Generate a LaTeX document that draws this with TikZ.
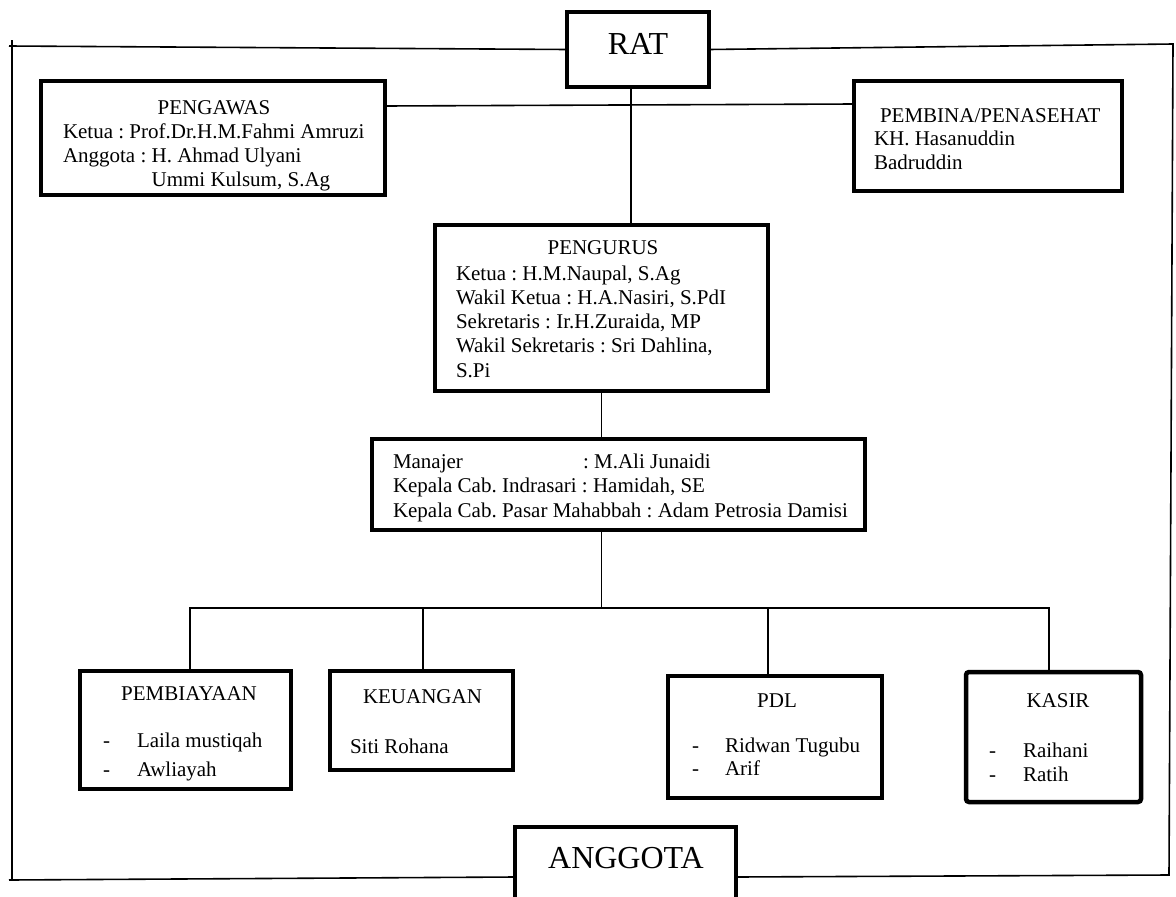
\documentclass[tikz,border=0pt]{standalone}
\usepackage{fontspec}
\setmainfont{Liberation Serif}
\usetikzlibrary{calc}
\frenchspacing
\begin{document}
\begin{tikzpicture}[x=1pt,y=-1pt,
  every node/.style={font=\fontsize{21}{24}\selectfont\frenchspacing, inner sep=0pt, outer sep=0pt},
  orgbox/.style={draw, line width=4.5pt, rectangle, anchor=north west},
  conn/.style={line width=1.6pt},
  lbl/.style={anchor=base west},
  ttl/.style={anchor=base},
  big/.style={font=\fontsize{32}{36}\selectfont, anchor=base},
]
\useasboundingbox (0,0) rectangle (1176,897);
\clip (0,0) rectangle (1176,897);

% boxes
\node[orgbox, minimum width=142, minimum height=75] (rat) at (567,12) {};
\node[orgbox, minimum width=344, minimum height=114] (pengawas) at (41,81) {};
\node[orgbox, minimum width=268, minimum height=110] (pembina) at (854,81) {};
\node[orgbox, minimum width=333, minimum height=166] (pengurus) at (435,225) {};
\node[orgbox, minimum width=493, minimum height=91] (manajer) at (372,439) {};
\node[orgbox, minimum width=211, minimum height=118] (pembiayaan) at (80,671) {};
\node[orgbox, minimum width=183, minimum height=99] (keuangan) at (330,671) {};
\node[orgbox, minimum width=214, minimum height=122] (pdl) at (668,676) {};
\node[orgbox, minimum width=175, minimum height=130, rounded corners=3pt] (kasir) at (966,672) {};
\node[orgbox, minimum width=221, minimum height=100] (anggota) at (515,827) {};

% frame corners
\coordinate (ftl) at (9,46);
\coordinate (fltop) at (12,40);
\coordinate (flbot) at (12,880);
\coordinate (fbl) at (9,880);
\coordinate (ftr) at (1173,44);
\coordinate (fbr) at (1169,875);

% outer frame
\draw[conn] (rat.west) -- (ftl);
\draw[conn] (fltop) -- (flbot);
\draw[conn] (fbl) -- (anggota.west);
\draw[conn] (rat.east) -- (ftr) -- (fbr) -- (anggota.east);

% pengawas -- pembina
\draw[conn] ($(pengawas.north east)+(0,25)$) -- ($(pembina.north west)+(0,23)$);
% rat -- pengurus
\coordinate (rv) at ($(rat.south)+(-7,0)$);
\draw[conn] (rv) -- (rv |- pengurus.north);
% pengurus -- manajer
\draw[conn] (pengurus.south) -- (pengurus.south |- manajer.north);
% manajer -- bus
\coordinate (ms) at (pengurus.south |- manajer.south);
\draw[conn] (ms) -- ++(0,78) coordinate (bus);
\coordinate (p1) at ($(pembiayaan.north)+(4.5,0)$);
\coordinate (p2) at ($(keuangan.north)+(1.5,0)$);
\coordinate (p3) at ($(pdl.north)+(-7,0)$);
\coordinate (p4) at ($(kasir.north)+(-4.5,0)$);
\draw[conn] (p1) |- (bus) -| (p4);
\draw[conn] (p2) -- (p2 |- bus);
\draw[conn] (p3) -- (p3 |- bus);

% texts
\node[big] (ratlbl) at (638,54) {RAT};
\node[big] (anglbl) at (626,868) {ANGGOTA};

\node[ttl] (pengawast) at (214,114) {PENGAWAS};
\node[lbl] (pengawasl) at (63,138) {\begin{tabular}[t]{@{}l@{}}Ketua : Prof.Dr.H.M.Fahmi Amruzi\\Anggota : H. Ahmad Ulyani\\\phantom{Anggota : }Ummi Kulsum, S.Ag\end{tabular}};

\node[lbl] (pembinat) at (880,122) {PEMBINA/PENASEHAT};
\node[lbl] (pembinal) at (874,145) {\begin{tabular}[t]{@{}l@{}}KH. Hasanuddin\\Badruddin\end{tabular}};

\node[ttl] (pengurust) at (603,254) {PENGURUS};
\node[lbl, font=\fontsize{21}{24.3}\selectfont\frenchspacing] (pengurusl) at (456,280) {\begin{tabular}[t]{@{}l@{}}Ketua : H.M.Naupal, S.Ag\\Wakil Ketua : H.A.Nasiri, S.PdI\\Sekretaris : Ir.H.Zuraida, MP\\Wakil Sekretaris : Sri Dahlina,\\S.Pi\end{tabular}};

\node[lbl, font=\fontsize{21}{24.5}\selectfont\frenchspacing] (manajerl) at (393,468) {\begin{tabular}[t]{@{}l@{}}\makebox[190pt][l]{Manajer}: M.Ali Junaidi\\Kepala Cab. Indrasari : Hamidah, SE\\Kepala Cab. Pasar Mahabbah : Adam Petrosia Damisi\end{tabular}};

\node[ttl] (pembiayaant) at (189,700) {PEMBIAYAAN};
\node[lbl] (pb1d) at (103,747) {-};
\node[lbl] (pb1) at (137,747) {Laila mustiqah};
\node[lbl] (pb2d) at (103,776) {-};
\node[lbl] (pb2) at (137,776) {Awliayah};

\node[lbl] (keuangant) at (363,703) {KEUANGAN};
\node[lbl] (ku1) at (350,753) {Siti Rohana};

\node[ttl] (pdlt) at (777,707) {PDL};
\node[lbl] (pd1d) at (692,752) {-};
\node[lbl] (pd1) at (725,752) {Ridwan Tugubu};
\node[lbl] (pd2d) at (692,775) {-};
\node[lbl] (pd2) at (725,775) {Arif};

\node[ttl] (kasirt) at (1058,707) {KASIR};
\node[lbl] (ks1d) at (989,757) {-};
\node[lbl] (ks1) at (1023,757) {Raihani};
\node[lbl] (ks2d) at (989,781) {-};
\node[lbl] (ks2) at (1023,781) {Ratih};
\end{tikzpicture}
\end{document}
